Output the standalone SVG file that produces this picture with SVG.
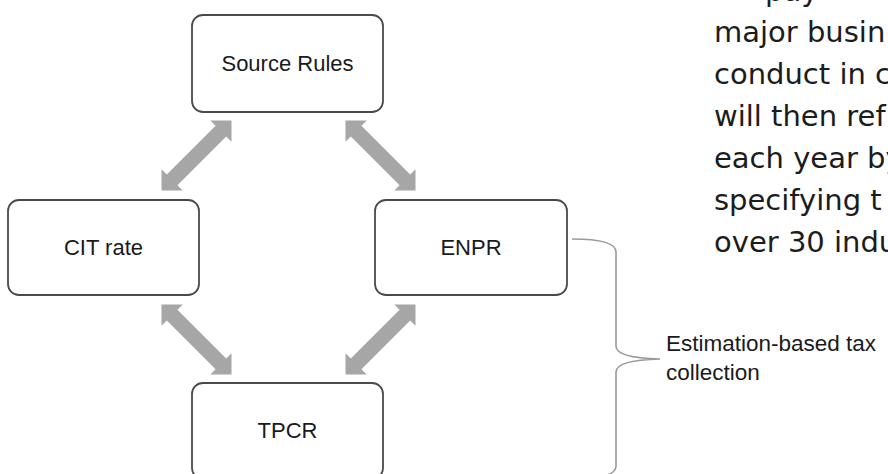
<svg xmlns="http://www.w3.org/2000/svg" xmlns:xlink="http://www.w3.org/1999/xlink" width="888" height="474" viewBox="0 0 888 474">
<style>
.box{fill:#ffffff;stroke:#4a4a4a;stroke-width:1.8}
.lbl{font-family:"Liberation Sans",Arial,sans-serif;font-size:22px;fill:#1a1a1a;text-anchor:middle}
.note{font-family:"Liberation Sans",Arial,sans-serif;font-size:22.5px;fill:#1a1a1a}
.side{font-family:"DejaVu Sans","Noto Sans",sans-serif;font-size:29px;fill:#1c1c1c}
.arr{fill:#a6a6a6}
.brace{fill:none;stroke:#9a9a9a;stroke-width:1.6}
</style>
<defs>
<polygon id="dbl" points="-49.5,0 -34.5,-15 -34.5,-7.5 34.5,-7.5 34.5,-15 49.5,0 34.5,15 34.5,7.5 -34.5,7.5 -34.5,15"/>
</defs>
<rect width="888" height="474" fill="#ffffff"/>
<g id="connectors">
<use xlink:href="#dbl" class="arr" transform="translate(196.5,155.5) rotate(135)"/>
<use xlink:href="#dbl" class="arr" transform="translate(380.5,155.5) rotate(45)"/>
<use xlink:href="#dbl" class="arr" transform="translate(196.5,339.5) rotate(45)"/>
<use xlink:href="#dbl" class="arr" transform="translate(380.5,339.5) rotate(135)"/>
<path class="brace" d="M572,239 Q616,239 616,252 L616,346 Q616,358 660,359 Q616,360 616,372 L616,466 Q616,479 572,479"/>
</g>
<g id="source-rules">
<rect class="box" x="192" y="15" width="191" height="97" rx="11"/>
<text class="lbl" x="287.5" y="71">Source Rules</text>
</g>
<g id="cit-rate">
<rect class="box" x="8" y="200" width="191" height="95" rx="11"/>
<text class="lbl" x="103.5" y="255">CIT rate</text>
</g>
<g id="enpr">
<rect class="box" x="375" y="200" width="192" height="95" rx="11"/>
<text class="lbl" x="471" y="255">ENPR</text>
</g>
<g id="tpcr">
<rect class="box" x="192" y="383" width="191" height="96" rx="11"/>
<text class="lbl" x="287.5" y="438">TPCR</text>
</g>
<g id="brace-label">
<text class="note" x="666" y="351">Estimation-based tax</text>
<text class="note" x="666" y="380">collection</text>
</g>
<g id="side-text">
<text class="side" x="765" y="1">pay</text>
<text class="side" x="714" y="42">major busin</text>
<text class="side" x="714" y="84">conduct in c</text>
<text class="side" x="714" y="126">will then ref</text>
<text class="side" x="714" y="168">each year by</text>
<text class="side" x="714" y="210">specifying t</text>
<text class="side" x="714" y="252">over 30 indu</text>
</g>
</svg>
